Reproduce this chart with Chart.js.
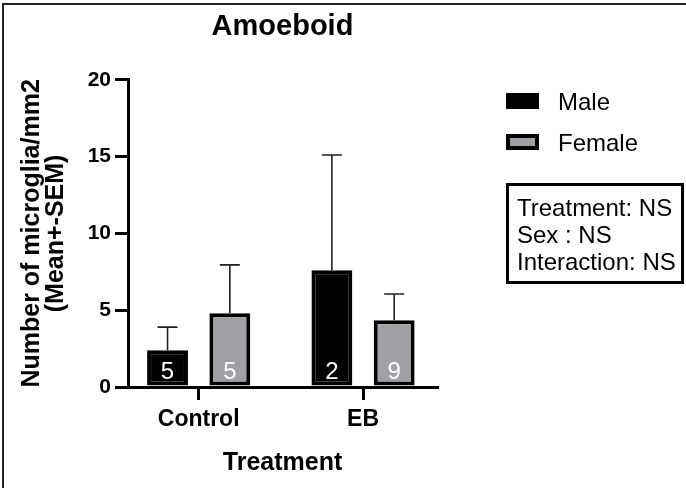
<!DOCTYPE html>
<html>
<head>
<meta charset="utf-8">
<script src="https://cdn.jsdelivr.net/npm/chart.js@4.4.1/dist/chart.umd.min.js"></script>
<style>
  html, body { margin: 0; padding: 0; background: #fff; }
  #wrap { position: relative; width: 686px; height: 488px; overflow: hidden; }
  #frame { position: absolute; left: 2px; top: 3px; width: 720px; height: 520px;
           border-left: 2px solid #222; border-top: 2px solid #222; }
  #chart { position: absolute; left: 0; top: 0; }
</style>
</head>
<body>
<div id="wrap">
  <div id="frame"></div>
  <canvas id="chart" width="686" height="488"></canvas>
</div>
<script>
const FONT = "'Liberation Sans', Arial, sans-serif";

// values
const groups = ["Control", "EB"];
const maleMean = [2.4, 7.6];
const maleSem = [1.5, 7.5];
const femaleMean = [4.8, 4.35];
const femaleSem = [3.15, 1.7];
const maleN = [5, 2];
const femaleN = [5, 9];
const yMax = 20;
const yStep = 5;
const statsLines = ["Treatment: NS", "Sex : NS", "Interaction: NS"];

// error bars (mean + SEM, upward only) and n inside bars
const extrasPlugin = {
  id: "extras",
  afterDatasetsDraw(chart) {
    const ctx = chart.ctx;
    const y = chart.scales.y;
    chart.data.datasets.forEach((ds, di) => {
      const meta = chart.getDatasetMeta(di);
      meta.data.forEach((bar, i) => {
        const top = y.getPixelForValue(ds.data[i] + ds.sem[i]);
        ctx.save();
        ctx.strokeStyle = "#222";
        ctx.lineWidth = 1.6;
        ctx.beginPath();
        ctx.moveTo(bar.x, bar.y);
        ctx.lineTo(bar.x, top);
        ctx.moveTo(bar.x - 10, top);
        ctx.lineTo(bar.x + 10, top);
        ctx.stroke();
        ctx.fillStyle = "#fff";
        ctx.font = "24px " + FONT;
        ctx.textAlign = "center";
        ctx.textBaseline = "alphabetic";
        ctx.fillText(String(ds.n[i]), bar.x, bar.base - 7);
        ctx.restore();
      });
    });
  },
  afterDraw(chart) {
    const ctx = chart.ctx;
    const left = chart.chartArea.right + 69;
    ctx.save();
    // legend
    chart.data.datasets.forEach((ds, i) => {
      const top = 93 + i * 41;
      ctx.fillStyle = ds.borderColor;
      ctx.fillRect(left, top, 33, 16);
      ctx.fillStyle = ds.backgroundColor;
      ctx.fillRect(left + 4, top + 4, 25, 8);
      ctx.fillStyle = "#000";
      ctx.font = "24px " + FONT;
      ctx.textAlign = "left";
      ctx.textBaseline = "alphabetic";
      ctx.fillText(ds.label, left + 52, top + 17);
    });
    // stats box
    ctx.strokeStyle = "#000";
    ctx.lineWidth = 3;
    ctx.strokeRect(left + 1.5, 184.5, 684 - left - 3, 98);
    ctx.fillStyle = "#000";
    ctx.font = "24px " + FONT;
    statsLines.forEach((t, i) => ctx.fillText(t, left + 11, 216 + i * 27));
    ctx.restore();
  }
};

new Chart(document.getElementById("chart"), {
  type: "bar",
  data: {
    labels: groups,
    datasets: [
      { label: "Male", data: maleMean, sem: maleSem, n: maleN,
        backgroundColor: "#000", borderColor: "#000", borderWidth: 4, borderSkipped: false },
      { label: "Female", data: femaleMean, sem: femaleSem, n: femaleN,
        backgroundColor: "#a0a0a4", borderColor: "#000", borderWidth: 4, borderSkipped: false }
    ]
  },
  options: {
    responsive: false,
    animation: false,
    categoryPercentage: 0.758,
    barPercentage: 0.656,
    layout: { padding: { left: 0, right: 249, top: 0, bottom: 0 } },
    plugins: {
      legend: { display: false },
      tooltip: { enabled: false },
      title: {
        display: true, text: "Amoeboid", color: "#000", fullSize: false,
        font: { family: FONT, size: 29, weight: "bold" },
        padding: { top: 10, bottom: 35 }
      }
    },
    scales: {
      x: {
        offset: false,
        afterDataLimits: s => { s.min = -0.43; s.max = 1.45; },
        afterBuildTicks: s => {
          s.ticks = groups.map((g, i) => ({ value: i }));
          s._startValue = -0.43;
          s._valueRange = 1.88;
        },
        afterFit: s => { s.height = 101; },
        grid: { drawOnChartArea: false, drawTicks: true, tickLength: 13, lineWidth: 3, color: "#000", offset: false },
        border: { color: "#000", width: 3 },
        ticks: { color: "#000", padding: 6, font: { family: FONT, size: 23, weight: "bold" } },
        title: { display: true, text: "Treatment", color: "#000", padding: { top: 4, bottom: 10 },
                 font: { family: FONT, size: 25, weight: "bold" } }
      },
      y: {
        min: 0, max: yMax,
        afterFit: s => { s.width = 128; },
        grid: { drawOnChartArea: false, drawTicks: true, tickLength: 13, lineWidth: 3, color: "#000" },
        border: { color: "#000", width: 3 },
        ticks: { stepSize: yStep, color: "#000", padding: 4, font: { family: FONT, size: 21, weight: "bold" } },
        title: { display: true, text: ["Number of microglia/mm2", "(Mean+-SEM)"], color: "#000",
                 padding: { top: 20, bottom: 0 },
                 font: { family: FONT, size: 25, weight: "bold", lineHeight: 0.96 } }
      }
    }
  },
  plugins: [extrasPlugin]
});
</script>
</body>
</html>
